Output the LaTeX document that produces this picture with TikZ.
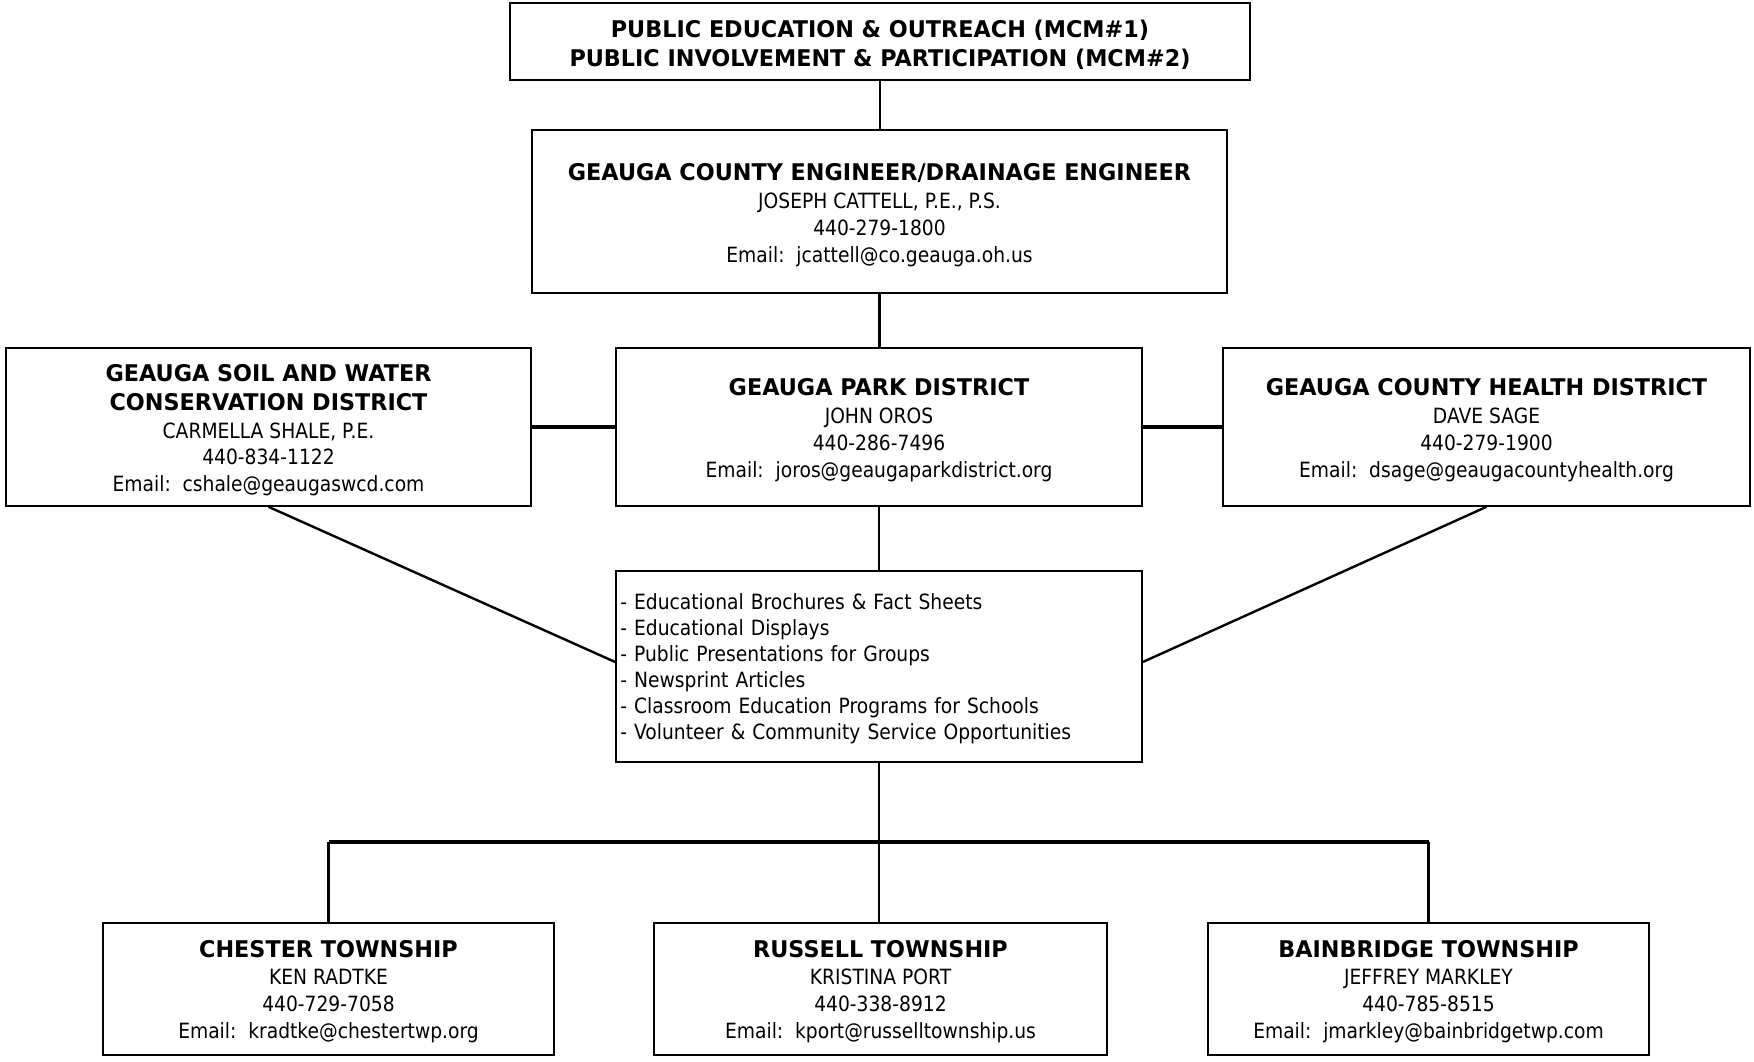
\documentclass[tikz,border=0pt]{standalone}
\usepackage{fontspec}
\setmainfont{DejaVu Sans}[FakeStretch=0.89,BoldFeatures={FakeStretch=0.97}]
\newcommand\hd[1]{{\fontsize{23}{26.8}\selectfont\bfseries #1}}
\begin{document}
\begin{tikzpicture}[x=1pt,y=-1pt,
  box/.style={draw=black,line width=1.6pt,rectangle,inner sep=0pt},
  boxtext/.style={inner sep=0pt,align=center,font=\fontsize{21}{26.8}\selectfont},
  conn/.style={line width=2.4pt,black},
  thick conn/.style={line width=4pt,black}]
\useasboundingbox (0,0) rectangle (1754,1061);
\fill[white] (0,0) rectangle (1754,1061);

% boxes
\node[box,minimum width=740,minimum height=77] (top) at (880,41.5) {};
\node[box,minimum width=695,minimum height=163] (eng) at (879.5,211.5) {};
\node[box,minimum width=525,minimum height=158] (soil) at (268.5,427) {};
\node[box,minimum width=526,minimum height=158] (park) at (879,427) {};
\node[box,minimum width=527,minimum height=158] (health) at (1486.5,427) {};
\node[box,minimum width=526,minimum height=191] (items) at (879,666.5) {};
\node[box,minimum width=451,minimum height=132] (chester) at (328.5,989) {};
\node[box,minimum width=453,minimum height=132] (russell) at (880.5,989) {};
\node[box,minimum width=441,minimum height=132] (bain) at (1428.5,989) {};

% texts
\node[boxtext] (top-t) at ([yshift=-3.3pt]top.center)
  {\hd{PUBLIC EDUCATION \& OUTREACH (MCM\#1)}\\[2pt]\hd{PUBLIC INVOLVEMENT \& PARTICIPATION (MCM\#2)}};
\node[boxtext] (eng-t) at ([yshift=-3.8pt]eng.center)
  {\hd{GEAUGA COUNTY ENGINEER/DRAINAGE ENGINEER}\\[1pt]JOSEPH CATTELL, P.E., P.S.\\440-279-1800\\Email:\ \ jcattell@co.geauga.oh.us};
\node[boxtext] (soil-t) at ([yshift=-3.3pt]soil.center)
  {\hd{GEAUGA SOIL AND WATER}\\[2pt]\hd{CONSERVATION DISTRICT}\\[1pt]CARMELLA SHALE, P.E.\\440-834-1122\\Email:\ \ cshale@geaugaswcd.com};
\node[boxtext] (park-t) at ([yshift=-3.3pt]park.center)
  {\hd{GEAUGA PARK DISTRICT}\\[1pt]JOHN OROS\\440-286-7496\\Email:\ \ joros@geaugaparkdistrict.org};
\node[boxtext] (health-t) at ([yshift=-3.3pt]health.center)
  {\hd{GEAUGA COUNTY HEALTH DISTRICT}\\[1pt]DAVE SAGE\\440-279-1900\\Email:\ \ dsage@geaugacountyhealth.org};
\node[boxtext,text width=516,align=left,font=\fontsize{21}{26}\selectfont,anchor=west] (items-t)
  at ([xshift=5pt,yshift=-2.5pt]items.west)
  {- Educational Brochures \& Fact Sheets\\- Educational Displays\\- Public Presentations for Groups\\- Newsprint Articles\\- Classroom Education Programs for Schools\\- Volunteer \& Community Service Opportunities};
\node[boxtext] (chester-t) at ([yshift=-2.5pt]chester.center)
  {\hd{CHESTER TOWNSHIP}\\[1pt]KEN RADTKE\\440-729-7058\\Email:\ \ kradtke@chestertwp.org};
\node[boxtext] (russell-t) at ([yshift=-2.5pt]russell.center)
  {\hd{RUSSELL TOWNSHIP}\\[1pt]KRISTINA PORT\\440-338-8912\\Email:\ \ kport@russelltownship.us};
\node[boxtext] (bain-t) at ([yshift=-2.5pt]bain.center)
  {\hd{BAINBRIDGE TOWNSHIP}\\[1pt]JEFFREY MARKLEY\\440-785-8515\\Email:\ \ jmarkley@bainbridgetwp.com};

\coordinate (bus) at (880,842);

% connectors
\draw[conn] (top.south) -- (top.south |- eng.north);
\draw[conn] (eng.south) -- (eng.south |- park.north);
\draw[thick conn] (soil.east) -- (park.west);
\draw[thick conn] (park.east) -- (health.west);
\draw[conn] (park.south) -- (items.north);
\draw[conn] (soil.south) -- ([yshift=4.5pt]items.west);
\draw[conn] (health.south) -- ([yshift=4.5pt]items.east);
\draw[conn] (items.south) -- (items.south |- russell.north);
\draw[conn] (chester.north) -- (chester.north |- bus);
\draw[conn] (bain.north) -- (bain.north |- bus);
\draw[thick conn] (chester.north |- bus) -- (bain.north |- bus);
\end{tikzpicture}
\end{document}
